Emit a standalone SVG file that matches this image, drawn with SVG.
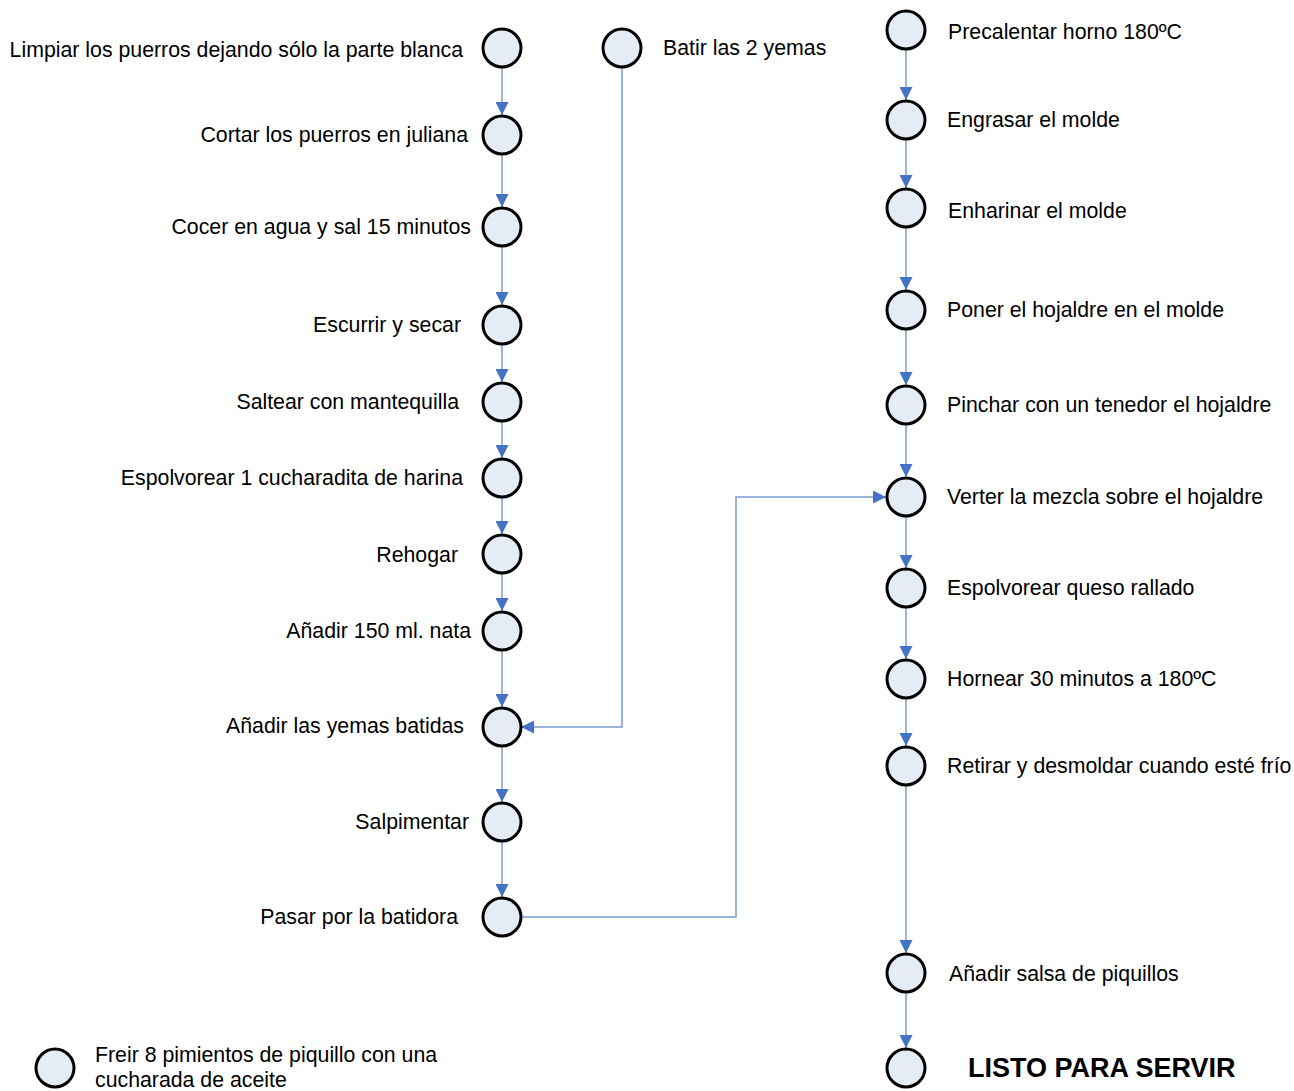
<svg xmlns="http://www.w3.org/2000/svg" width="1294" height="1091" viewBox="0 0 1294 1091">
<style>
.n circle{fill:#E6ECF6;stroke:#000;stroke-width:3}
text{font-family:"Liberation Sans",Arial,sans-serif;font-size:21.3px;fill:#000}
.r{text-anchor:end}
.b{font-weight:bold;font-size:27px}
.c{fill:none;stroke:#7A9CD3;stroke-width:1.5}
</style>
<defs>
<marker id="a" viewBox="0 0 13 13" refX="13" refY="6.5" markerWidth="13" markerHeight="13" markerUnits="userSpaceOnUse" orient="auto">
<path d="M0,0L13,6.5L0,13z" fill="#4472C4"/>
</marker>
</defs>
<g id="connectors">
<line class="c" x1="502" y1="68" x2="502" y2="115" marker-end="url(#a)"/>
<line class="c" x1="502" y1="155" x2="502" y2="207" marker-end="url(#a)"/>
<line class="c" x1="502" y1="247" x2="502" y2="305" marker-end="url(#a)"/>
<line class="c" x1="502" y1="345" x2="502" y2="382" marker-end="url(#a)"/>
<line class="c" x1="502" y1="422" x2="502" y2="458" marker-end="url(#a)"/>
<line class="c" x1="502" y1="498" x2="502" y2="534" marker-end="url(#a)"/>
<line class="c" x1="502" y1="574" x2="502" y2="611" marker-end="url(#a)"/>
<line class="c" x1="502" y1="651" x2="502" y2="707" marker-end="url(#a)"/>
<line class="c" x1="502" y1="747" x2="502" y2="802" marker-end="url(#a)"/>
<line class="c" x1="502" y1="842" x2="502" y2="897" marker-end="url(#a)"/>
<polyline class="c" points="622,68 622,727 521,727" marker-end="url(#a)"/>
<polyline class="c" points="521,917 736,917 736,497 886,497" marker-end="url(#a)"/>
<line class="c" x1="906" y1="50" x2="906" y2="100" marker-end="url(#a)"/>
<line class="c" x1="906" y1="140" x2="906" y2="188" marker-end="url(#a)"/>
<line class="c" x1="906" y1="228" x2="906" y2="290" marker-end="url(#a)"/>
<line class="c" x1="906" y1="330" x2="906" y2="385" marker-end="url(#a)"/>
<line class="c" x1="906" y1="425" x2="906" y2="477" marker-end="url(#a)"/>
<line class="c" x1="906" y1="517" x2="906" y2="568" marker-end="url(#a)"/>
<line class="c" x1="906" y1="608" x2="906" y2="659" marker-end="url(#a)"/>
<line class="c" x1="906" y1="699" x2="906" y2="746" marker-end="url(#a)"/>
<line class="c" x1="906" y1="786" x2="906" y2="953" marker-end="url(#a)"/>
<line class="c" x1="906" y1="993" x2="906" y2="1048" marker-end="url(#a)"/>
</g>
<g id="n1" class="n"><circle cx="502" cy="48" r="19"/><text class="r" x="463" y="57">Limpiar los puerros dejando sólo la parte blanca</text></g>
<g id="n2" class="n"><circle cx="502" cy="135" r="19"/><text class="r" x="468" y="142">Cortar los puerros en juliana</text></g>
<g id="n3" class="n"><circle cx="502" cy="227" r="19"/><text class="r" x="471" y="234">Cocer en agua y sal 15 minutos</text></g>
<g id="n4" class="n"><circle cx="502" cy="325" r="19"/><text class="r" x="461" y="332">Escurrir y secar</text></g>
<g id="n5" class="n"><circle cx="502" cy="402" r="19"/><text class="r" x="459" y="409">Saltear con mantequilla</text></g>
<g id="n6" class="n"><circle cx="502" cy="478" r="19"/><text class="r" x="463" y="485">Espolvorear 1 cucharadita de harina</text></g>
<g id="n7" class="n"><circle cx="502" cy="554" r="19"/><text class="r" x="458" y="562">Rehogar</text></g>
<g id="n8" class="n"><circle cx="502" cy="631" r="19"/><text class="r" x="471" y="638">Añadir 150 ml. nata</text></g>
<g id="n9" class="n"><circle cx="502" cy="727" r="19"/><text class="r" x="464" y="733">Añadir las yemas batidas</text></g>
<g id="n10" class="n"><circle cx="502" cy="822" r="19"/><text class="r" x="469" y="829">Salpimentar</text></g>
<g id="n11" class="n"><circle cx="502" cy="917" r="19"/><text class="r" x="458" y="924">Pasar por la batidora</text></g>
<g id="n12" class="n"><circle cx="622" cy="48" r="19"/><text x="663" y="55">Batir las 2 yemas</text></g>
<g id="r1" class="n"><circle cx="906" cy="30" r="19"/><text x="948" y="39">Precalentar horno 180ºC</text></g>
<g id="r2" class="n"><circle cx="906" cy="120" r="19"/><text x="947" y="127">Engrasar el molde</text></g>
<g id="r3" class="n"><circle cx="906" cy="208" r="19"/><text x="948" y="218">Enharinar el molde</text></g>
<g id="r4" class="n"><circle cx="906" cy="310" r="19"/><text x="947" y="317">Poner el hojaldre en el molde</text></g>
<g id="r5" class="n"><circle cx="906" cy="405" r="19"/><text x="947" y="412">Pinchar con un tenedor el hojaldre</text></g>
<g id="r6" class="n"><circle cx="906" cy="497" r="19"/><text x="947" y="504">Verter la mezcla sobre el hojaldre</text></g>
<g id="r7" class="n"><circle cx="906" cy="588" r="19"/><text x="947" y="595">Espolvorear queso rallado</text></g>
<g id="r8" class="n"><circle cx="906" cy="679" r="19"/><text x="947" y="686">Hornear 30 minutos a 180ºC</text></g>
<g id="r9" class="n"><circle cx="906" cy="766" r="19"/><text x="947" y="773">Retirar y desmoldar cuando esté frío</text></g>
<g id="r10" class="n"><circle cx="906" cy="973" r="19"/><text x="949" y="981">Añadir salsa de piquillos</text></g>
<g id="r11" class="n"><circle cx="906" cy="1068" r="19"/><text class="b" x="968" y="1077">LISTO PARA SERVIR</text></g>
<g id="p1" class="n"><circle cx="55" cy="1068" r="19"/><text x="95" y="1062">Freir 8 pimientos de piquillo con una</text><text x="95" y="1087">cucharada de aceite</text></g>
</svg>
